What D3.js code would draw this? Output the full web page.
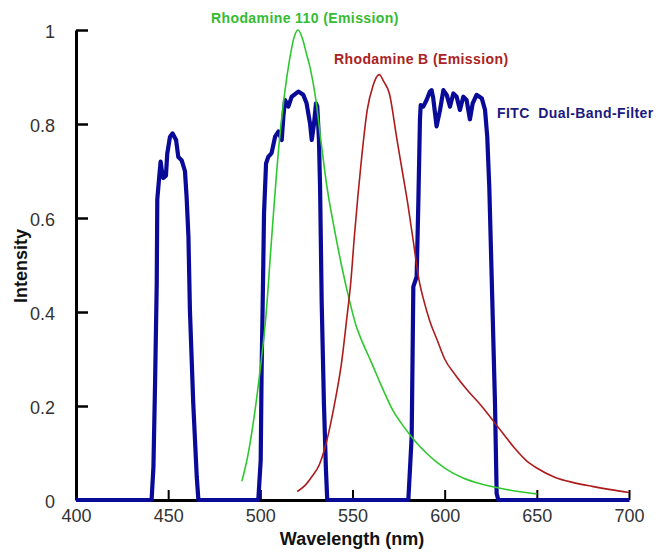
<!DOCTYPE html>
<html>
<head>
<meta charset="utf-8">
<script src="https://cdn.jsdelivr.net/npm/d3@7/dist/d3.min.js"></script>
<style>
  html, body { margin: 0; padding: 0; background: #fff; }
  svg { display: block; }
  text { font-family: "Liberation Sans", Arial, sans-serif; }
</style>
</head>
<body>
<svg id="chart" width="657" height="553"></svg>
<script>
// ---- Data ----
const xTicks = [400, 450, 500, 550, 600, 650, 700];
const yTicks = [0, 0.2, 0.4, 0.6, 0.8, 1];
const yTickLabels = ["0", "0.2", "0.4", "0.6", "0.8", "1"];

const seriesNames = ["Rhodamine 110 (Emission)", "Rhodamine B (Emission)", "FITC  Dual-Band-Filter"];

// Rhodamine 110 emission
const r110Wl = [490, 493, 496, 500, 503, 506, 510, 513, 516, 518, 520.5, 523, 525, 527, 530, 533, 536, 540, 544, 548, 552, 556, 560, 566, 572, 578, 584, 590, 600, 610, 620, 630, 640, 650];
const r110Val = [0.04, 0.09, 0.16, 0.28, 0.39, 0.55, 0.75, 0.86, 0.94, 0.98, 1.0, 0.98, 0.95, 0.92, 0.855, 0.76, 0.67, 0.58, 0.50, 0.43, 0.37, 0.33, 0.295, 0.24, 0.19, 0.155, 0.125, 0.10, 0.068, 0.047, 0.034, 0.025, 0.018, 0.013];

// Rhodamine B emission
const rbWl = [520, 524, 528, 532, 535, 538, 541, 544, 547, 549, 551, 553, 555, 558, 561, 564.5, 567, 570, 574, 577, 580, 583, 586, 589, 592, 596, 600, 606, 612, 620, 626, 632, 638, 644, 650, 660, 670, 680, 690, 700];
const rbVal = [0.018, 0.03, 0.05, 0.075, 0.11, 0.16, 0.22, 0.29, 0.39, 0.46, 0.56, 0.65, 0.73, 0.83, 0.88, 0.905, 0.89, 0.865, 0.77, 0.70, 0.63, 0.55, 0.47, 0.42, 0.38, 0.34, 0.30, 0.265, 0.235, 0.20, 0.17, 0.14, 0.11, 0.085, 0.068, 0.048, 0.037, 0.029, 0.022, 0.016];

// FITC dual-band filter transmission
const fitcWl = [400, 441, 442, 442.9, 443.8, 444.1, 445.2, 445.9, 446.6, 447.4, 448.8, 449.5, 451, 452.4, 454.3, 455.5, 457.3, 459.1, 460, 461, 461.8, 463.6, 465.5, 466.4,
  498.9, 500.2, 500.7, 501.6, 502, 503.1, 504.3, 506.1, 508, 509.8, 511.6, 512.5, 513.4, 515.2, 517, 520.6, 523.3, 525.1, 527, 527.9, 529.1, 530.2, 530.9, 531.8, 532.4, 533.3, 534.5, 535.6, 536.3,
  580.3, 582.1, 582.6, 583, 584.8, 585.7, 586.6, 587, 588.4, 590.2, 592, 592.9, 593.8, 595.6, 597.5, 599.3, 601.1, 602.9, 604.7, 606.5, 608.3, 610.1, 611.9, 613.7, 615.2, 617.3, 620.1, 621.9, 623.1, 624.2, 625.5, 627.3, 628.2, 629.1, 700];
const fitcVal = [0, 0, 0.07, 0.25, 0.46, 0.64, 0.69, 0.72, 0.70, 0.685, 0.69, 0.737, 0.773, 0.78, 0.766, 0.73, 0.723, 0.70, 0.645, 0.56, 0.404, 0.206, 0.05, 0,
  0, 0.085, 0.277, 0.50, 0.61, 0.716, 0.73, 0.738, 0.773, 0.784, 0.766, 0.816, 0.851, 0.837, 0.858, 0.869, 0.862, 0.844, 0.80, 0.766, 0.80, 0.844, 0.837, 0.766, 0.667, 0.418, 0.206, 0.064, 0,
  0, 0.135, 0.31, 0.454, 0.475, 0.63, 0.81, 0.84, 0.837, 0.851, 0.869, 0.872, 0.855, 0.795, 0.83, 0.872, 0.862, 0.837, 0.865, 0.858, 0.83, 0.858, 0.851, 0.81, 0.844, 0.862, 0.855, 0.83, 0.773, 0.667, 0.475, 0.206, 0.014, 0, 0];

// ---- Chart ----
const svg = d3.select("#chart");
const x = d3.scaleLinear().domain([400, 700]).range([76, 629]);
const y = d3.scaleLinear().domain([0, 1]).range([500, 30]);

const zip = (a, b) => a.map((d, i) => [d, b[i]]);

// axes
const xAxis = d3.axisBottom(x).tickValues(xTicks).tickSizeInner(-10).tickSizeOuter(0).tickPadding(12).tickFormat(d3.format("d"));
const gx = svg.append("g").attr("transform", "translate(0,500)").call(xAxis);
gx.select(".domain").attr("stroke", "#000").attr("stroke-width", 3);
gx.selectAll(".tick line").attr("stroke", "#000").attr("stroke-width", 2);
gx.selectAll(".tick text").attr("font-size", 18).attr("fill", "#333").attr("font-family", "'Liberation Sans', Arial, sans-serif").attr("dy", null).attr("y", 21.5);

const yAxis = d3.axisLeft(y).tickValues(yTicks).tickSizeInner(-12).tickSizeOuter(0).tickPadding(21).tickFormat((d, i) => yTickLabels[i]);
const gy = svg.append("g").attr("transform", "translate(76,0)").call(yAxis);
gy.select(".domain").attr("stroke", "#000").attr("stroke-width", 3);
gy.selectAll(".tick line").attr("stroke", "#000").attr("stroke-width", 2.5);
gy.selectAll(".tick text").attr("font-size", 18).attr("fill", "#333").attr("font-family", "'Liberation Sans', Arial, sans-serif").attr("dy", "0.39em");

// lines
const lineLin = d3.line().x(d => x(d[0])).y(d => y(d[1]));
const lineSmooth = d3.line().x(d => x(d[0])).y(d => y(d[1])).curve(d3.curveMonotoneX);

svg.append("path").datum(zip(fitcWl, fitcVal))
  .attr("d", lineLin).attr("fill", "none").attr("stroke", "#0a0a98").attr("stroke-width", 4.2).attr("stroke-linejoin", "round");

svg.append("path").datum(zip(r110Wl, r110Val))
  .attr("d", lineSmooth).attr("fill", "none").attr("stroke", "#2ec82e").attr("stroke-width", 1.6);

svg.append("path").datum(zip(rbWl, rbVal))
  .attr("d", lineSmooth).attr("fill", "none").attr("stroke", "#ac1c1c").attr("stroke-width", 1.6);

// series labels (keep the double space with a no-break space)
const nb = s => s.replace(/  /g, "\u00A0 ");
const lab = svg.append("g").attr("font-size", 14).attr("font-weight", "bold").attr("letter-spacing", 0.4);
lab.append("text").attr("x", 211).attr("y", 23).attr("fill", "#33bb33").text(nb(seriesNames[0]));
lab.append("text").attr("x", 334).attr("y", 64).attr("fill", "#aa2222").text(nb(seriesNames[1]));
lab.append("text").attr("x", 497).attr("y", 118).attr("fill", "#1a1a80").text(nb(seriesNames[2]));

// axis titles
svg.append("text").attr("x", 352).attr("y", 545).attr("text-anchor", "middle")
  .attr("font-size", 18).attr("font-weight", "bold").attr("fill", "#111").text("Wavelength (nm)");
svg.append("text").attr("transform", "translate(27,266) rotate(-90)").attr("text-anchor", "middle")
  .attr("font-size", 18).attr("font-weight", "bold").attr("fill", "#111").text("Intensity");
</script>
</body>
</html>
